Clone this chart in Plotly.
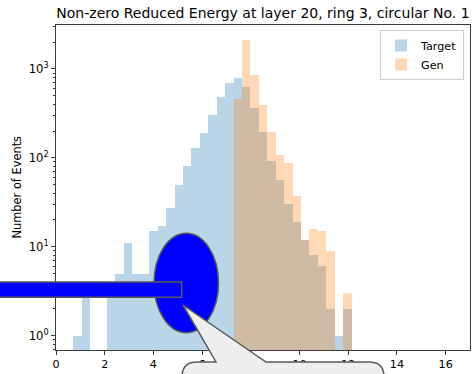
import numpy as np
import plotly.graph_objects as go

# ---------------- data ----------------
bin_lo = 0.71
bin_hi = 12.14
n_bins = 33

target_counts = [1, 3, 0, 0, 3, 5, 11, 5, 5, 15, 17, 27, 50, 80, 128, 192, 304, 488, 690, 786,
                 622, 361, 195, 91, 57, 30, 19, 12, 8, 6, 2, 1, 2]
gen_counts = [0, 0, 0, 0, 0, 0, 0, 0, 0, 0, 0, 0, 0, 0, 0, 0, 0, 0, 0, 460,
              2120, 856, 390, 194, 108, 87, 37, 12, 16, 15, 9, 0, 3]

series_names = ["Target", "Gen"]
x_tick_vals = [0, 2, 4, 6, 8, 10, 12, 14, 16]
x_tick_text = ["0", "2", "4", "6", "8", "10", "12", "14", "16"]
y_tick_vals = [1, 10, 100, 1000]
y_tick_text = ["10<sup>0</sup>", "10<sup>1</sup>", "10<sup>2</sup>", "10<sup>3</sup>"]
title_text = "Non-zero Reduced Energy at layer 20, ring 3, circular No. 1"
y_label = "Number of Events"

# ---------------- layout geometry ----------------
W, H = 472, 374
L, R, T, B = 56, 2, 25, 24
PW, PH = W - L - R, H - T - B


def px(xp):
    return (xp - L) / PW


def py(yp):
    return (H - B - yp) / PH


edges = np.linspace(bin_lo, bin_hi, n_bins + 1)
centers = (edges[:-1] + edges[1:]) / 2
width = edges[1] - edges[0]


def nz(v):
    return [c if c > 0 else None for c in v]


font_family = "DejaVu Sans"
spine = "#3a3a3a"

fig = go.Figure()
fig.add_trace(go.Bar(x=centers, y=nz(target_counts), width=width, name=series_names[0],
                     marker=dict(color="#1f77b4", line=dict(width=0)), opacity=0.3))
fig.add_trace(go.Bar(x=centers, y=nz(gen_counts), width=width, name=series_names[1],
                     marker=dict(color="#ff7f0e", line=dict(width=0)), opacity=0.3))

minor_vals = []
for k in range(-1, 4):
    for m in range(2, 10):
        v = m * 10 ** k
        if 0.69 <= v <= 3120:
            minor_vals.append(v)

fig.update_layout(
    width=W, height=H,
    margin=dict(l=L, r=R, t=T, b=B, pad=0),
    paper_bgcolor="white", plot_bgcolor="white",
    barmode="overlay", bargap=0,
    font=dict(family=font_family, size=11, color="black"),
    title=dict(text=title_text, x=0.5, xref="paper", xanchor="center",
               y=1 - 13 / H, yref="container", yanchor="middle",
               font=dict(size=14, family=font_family, color="black")),
    xaxis=dict(range=[0, 17], tickmode="array", tickvals=x_tick_vals, ticktext=x_tick_text,
               ticks="outside", ticklen=4, tickwidth=1, tickcolor=spine,
               showline=True, linecolor=spine, linewidth=1, mirror=True,
               showgrid=False, zeroline=False, tickfont=dict(size=11.2)),
    yaxis=dict(type="log", range=[np.log10(0.69), np.log10(3120)],
               tickmode="array", tickvals=y_tick_vals, ticktext=y_tick_text,
               ticks="outside", ticklen=4, tickwidth=1, tickcolor=spine,
               minor=dict(tickmode="array", tickvals=minor_vals, ticks="outside",
                          ticklen=2, tickwidth=0.8, tickcolor=spine, showgrid=False),
               showline=True, linecolor=spine, linewidth=1, mirror=True,
               showgrid=False, zeroline=False, tickfont=dict(size=11.6)),
    legend=dict(x=px(464), y=py(30), xanchor="right", yanchor="top",
                bgcolor="rgba(255,255,255,0.8)", bordercolor="#cccccc", borderwidth=1,
                font=dict(size=11.2), traceorder="normal", tracegroupgap=0),
    showlegend=True,
)

fig.add_annotation(text=y_label, textangle=-90, x=px(16), y=0.5, xref="paper", yref="paper",
                   xanchor="center", yanchor="middle", showarrow=False,
                   font=dict(size=11.4, family=font_family, color="black"))

# ---------------- overlay decorations ----------------
edge_col = "#5a5a5a"
fig.add_shape(type="circle", xref="paper", yref="paper",
              x0=px(154), x1=px(218.5), y0=py(332.7), y1=py(233.3),
              fillcolor="#0000ff", line=dict(color=edge_col, width=1.5), layer="above")
fig.add_shape(type="rect", xref="paper", yref="paper",
              x0=px(-20), x1=px(181.7), y0=py(297.3), y1=py(282),
              fillcolor="#0000ff", line=dict(color=edge_col, width=1.5), layer="above")

r = 15
pts = [
    ("M", 182, 420), ("L", 182, 362 + r), ("Q", 182, 362, 182 + r, 362),
    ("L", 216, 362), ("L", 183, 305), ("L", 266, 362), ("L", 384 - r, 362),
    ("Q", 384, 362, 384, 362 + r), ("L", 384, 420),
]
parts = []
for p in pts:
    if p[0] == "Q":
        parts.append("Q %.5f,%.5f %.5f,%.5f" % (px(p[1]), py(p[2]), px(p[3]), py(p[4])))
    else:
        parts.append("%s %.5f,%.5f" % (p[0], px(p[1]), py(p[2])))
path = " ".join(parts) + " Z"
fig.add_shape(type="path", xref="paper", yref="paper", path=path,
              fillcolor="#eeeeee", line=dict(color=edge_col, width=1.5), layer="above")

fig.write_html("out.html")
